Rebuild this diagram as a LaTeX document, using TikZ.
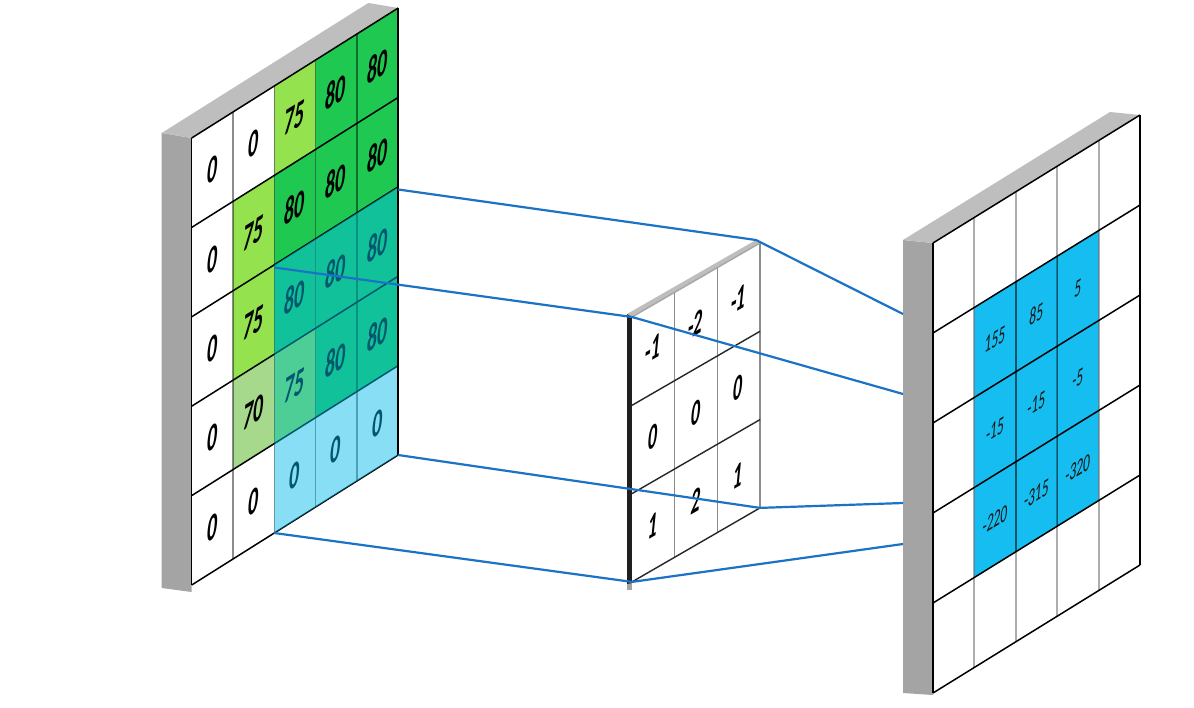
\documentclass[tikz,border=0pt]{standalone}
\usepackage{fontspec}
\setmainfont{Carlito}
\definecolor{lgreen}{HTML}{94E24E}
\definecolor{dgreen}{HTML}{1FC951}
\definecolor{pale}{HTML}{A7D98C}
\definecolor{ovl}{RGB}{0,185,234}
\definecolor{rblue}{HTML}{16BDF0}
\definecolor{lineblue}{HTML}{1C73C6}
\definecolor{sidegray}{HTML}{A4A4A4}
\definecolor{topgray}{HTML}{BEBEBE}
\newcommand\cellfill[3]{\fill[#3] (#1,#2) -- ++(1,0) -- ++(0,1) -- ++(-1,0) -- cycle;}
\begin{document}
\begin{tikzpicture}[x=1pt,y=-1pt,
  conn/.style={draw=lineblue, line width=2.2pt, line join=round},
  hline/.style={draw=black, line width=1.5pt},
  vline/.style={draw=black, draw opacity=0.45, line width=1.2pt},
  rvline/.style={draw=black, draw opacity=0.32, line width=2pt},
  ltxt/.style={inner sep=0pt, font=\fontsize{33}{33}\selectfont\bfseries, cm={0.6,0.377,0.12,1.2,(0,0)}},
  ktxt/.style={inner sep=0pt, font=\fontsize{31}{31}\selectfont\bfseries, cm={0.58,0.335,0.12,1.2,(0,0)}},
  rtxt/.style={inner sep=0pt, text=black!90, font=\fontsize{21}{21}\selectfont, cm={0.64,0.395,0.1,1.2,(0,0)}}]
\useasboundingbox (0,0) rectangle (1194,707);
\fill[white] (0,0) rectangle (1194,707);

% ---------------- left panel (input) ----------------
\fill[sidegray] (161.7,133) -- (191.7,138) -- (191.7,592) -- (161.7,588) -- cycle;
\fill[topgray] (161.7,133) -- (368.3,3) -- (398.3,8) -- (191.7,138) -- cycle;
\begin{scope}[shift={(191.7,138)}, x={(41.3pt,26pt)}, y={(0pt,-89.4pt)}]
  \fill[white] (0,0) -- (5,0) -- (5,5) -- (0,5) -- cycle;
  \foreach \c/\r in {2/0,1/1,1/2,2/3} {\cellfill{\c}{\r}{lgreen}}
  \foreach \c/\r in {3/0,4/0,2/1,3/1,4/1,2/2,3/2,4/2,3/3,4/3} {\cellfill{\c}{\r}{dgreen}}
  \cellfill{1}{3}{pale}
  \foreach \c in {1,...,4} \draw[vline] (\c,0) -- (\c,5);
  \foreach \r in {0,...,5} \draw[hline] (0,\r) -- (5,\r);
  \draw[hline] (0,0) -- (0,5);
  \foreach \c/\v in {0/0,1/0,2/75,3/80,4/80} \node[ltxt] (la\c) at (\c+0.5,0.5) {\v};
  \foreach \c/\v in {0/0,1/75,2/80,3/80,4/80} \node[ltxt] (lb\c) at (\c+0.5,1.5) {\v};
  \foreach \c/\v in {0/0,1/75,2/80,3/80,4/80} \node[ltxt] (lc\c) at (\c+0.5,2.5) {\v};
  \foreach \c/\v in {0/0,1/70,2/75,3/80,4/80} \node[ltxt] (ld\c) at (\c+0.5,3.5) {\v};
  \foreach \c/\v in {0/0,1/0,2/0,3/0,4/0} \node[ltxt] (le\c) at (\c+0.5,4.5) {\v};
  \fill[ovl, fill opacity=0.47] (2,2) -- (5,2) -- (5,5) -- (2,5) -- cycle;
  \draw[hline] (5,0) -- (5,5);
  \coordinate (ltr) at (5,2.03);
  \coordinate (ltl) at (2,2.03);
  \coordinate (lbr) at (5,5);
  \coordinate (lbl) at (2,5);
\end{scope}

% ---------------- kernel ----------------
\fill[topgray] (627,314) -- (756,240) -- (760,243) -- (632,317) -- cycle;
\fill[sidegray] (627,583) -- (632,583) -- (632,590) -- (627,590) -- cycle;
\fill[black!88] (627,314) -- (632,317) -- (632,583) -- (627,584) -- cycle;
\begin{scope}[shift={(632,317)}, x={(42.67pt,24.67pt)}, y={(0pt,-88.3pt)}]
  \fill[white] (0,0) -- (3,0) -- (3,3) -- (0,3) -- cycle;
  \foreach \c in {1,2,3} \draw[draw=black!45, line width=1.6pt] (\c,0) -- (\c,3);
  \draw[draw=black!35, line width=1.4pt] (0,0) -- (3,0);
  \foreach \r in {1,2,3} \draw[draw=black!85, line width=1.4pt] (0,\r) -- (3,\r);
  \foreach \c/\v in {0/-1,1/-2,2/-1} \node[ktxt] (ka\c) at (\c+0.5,0.5) {\v};
  \foreach \c/\v in {0/0,1/0,2/0} \node[ktxt] (kb\c) at (\c+0.5,1.5) {\v};
  \foreach \c/\v in {0/1,1/2,2/1} \node[ktxt] (kc\c) at (\c+0.5,2.5) {\v};
  \coordinate (ktl) at (0,0);
  \coordinate (kbr) at (3,3);
  \coordinate (kbl) at (0,3);
\end{scope}
\coordinate (ktr) at (756,240);

% ---------------- right panel (output) ----------------
\fill[sidegray] (903,240) -- (933,243) -- (933,695) -- (903,693) -- cycle;
\fill[topgray] (903,240) -- (1110,112) -- (1140,115) -- (933,243) -- cycle;
\begin{scope}[shift={(933,243)}, x={(41.4pt,25.6pt)}, y={(0pt,-90pt)}]
  \fill[white] (0,0) -- (5,0) -- (5,5) -- (0,5) -- cycle;
  \fill[rblue] (1,1) -- (4,1) -- (4,4) -- (1,4) -- cycle;
  \foreach \c in {1,...,4} \draw[rvline] (\c,0) -- (\c,5);
  \foreach \c in {2,3} \draw[draw=black, draw opacity=0.35, line width=1.4pt] (\c,1) -- (\c,4);
  \foreach \r in {0,...,5} \draw[hline] (0,\r) -- (5,\r);
  \draw[hline] (0,0) -- (0,5);
  \draw[hline] (5,0) -- (5,5);
  \foreach \c/\v in {1/155,2/85,3/5} \node[rtxt] (ra\c) at (\c+0.5,1.5) {\v};
  \foreach \c/\v in {1/-15,2/-15,3/-5} \node[rtxt] (rb\c) at (\c+0.5,2.5) {\v};
  \foreach \c/\v in {1/-220,2/-315,3/-320} \node[rtxt] (rc\c) at (\c+0.5,3.5) {\v};
\end{scope}
\coordinate (r1) at (903,314);
\coordinate (r2) at (903,394);
\coordinate (r3) at (903,503);
\coordinate (r4) at (903,544);

% ---------------- connectors ----------------
\draw[conn] (ltr) -- (ktr) -- (r1);
\draw[conn] (ltl) -- (ktl) -- (r2);
\draw[conn] (lbr) -- (kbr) -- (r3);
\draw[conn] (lbl) -- (kbl) -- (r4);
\end{tikzpicture}
\end{document}
